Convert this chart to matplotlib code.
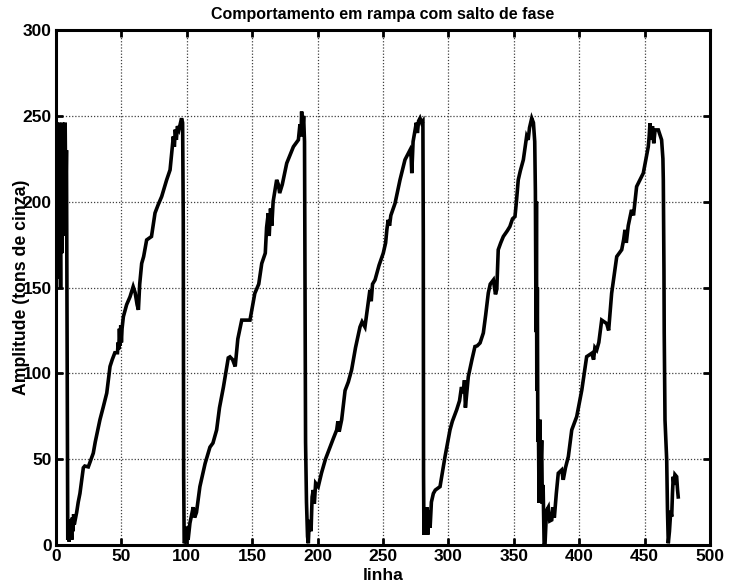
import matplotlib
matplotlib.use("Agg")
import matplotlib.pyplot as plt

# Data (linha, amplitude)
linha = [0, 0.5, 1, 1.5, 2, 2.5, 3, 3.5, 4, 4.5, 5, 5.5, 6, 6.5, 7, 7.5, 8, 8.5, 9, 9.5,
         10, 10.5, 11, 11.5, 12, 12.5, 13, 13.5, 14, 15.8, 17, 18.3, 20.9, 22, 24.7, 28.5, 30, 33.6, 36, 38.8,
         41.3, 43, 45, 47, 47.5, 48, 48.5, 49, 49.5, 50, 50.5, 51.5, 54, 56.6, 59, 60.5, 62, 63, 64, 65.5,
         67, 69.3, 73, 75.7, 78, 80.8, 84.6, 87.2, 89.7, 90.5, 91.2, 92, 92.8, 94, 96, 96.8, 97.3, 97.6, 98, 98.8,
         99.9, 101, 102.4, 104.9, 106, 107.4, 110, 114, 117.7, 120, 122.8, 125, 128, 131.7, 133, 135, 137, 139,
         142, 148.3, 152, 155, 157.3, 160, 161, 162.3, 163, 164, 165, 166, 168.7, 170, 171, 173, 176.4, 181.5,
         185.3, 186.5, 187.3, 187.8, 188.5, 189.3, 190, 190.4, 190.8, 191.5, 192.3, 192.9, 193.5, 194, 195, 195.8,
         196.7, 197.5, 198.5, 200.5, 203, 206, 209.5, 212, 214.6, 215.5, 216.5, 218.4, 221, 223.5, 226, 229,
         232.4, 234, 236.2, 240, 241, 242, 243.9, 247, 250.2, 252, 253, 254, 255, 256, 259.2, 263, 266.8, 270.6,
         271.5, 272, 273, 274.5, 275.5, 276.3, 277.2, 278.3, 279.5, 280.5, 280.8, 281, 281.3, 282, 282.7, 283.5,
         284.2, 285, 286, 287, 288.5, 290, 293.6, 297.4, 301.2, 303, 306.3, 308.5, 310, 311.4, 312.3, 313, 315.2,
         318, 320.3, 322, 324.2, 326.7, 328.5, 330.5, 332, 334.4, 336, 337, 338.1, 340, 342, 345, 347, 349,
         350.9, 352, 353.4, 355, 357.3, 359.8, 361, 362, 363.7, 365, 366, 366.5, 367, 367.3, 367.6, 368, 368.4,
         368.8, 369.3, 370, 370.5, 371.3, 371.8, 372.4, 373.2, 373.9, 375, 376.4, 377.5, 379, 380, 381, 382.5,
         384, 386.6, 387.8, 389.5, 391.7, 394.3, 398.1, 402, 405.7, 409.6, 411, 412, 413.4, 415, 417.2, 421,
         422.5, 424.8, 428.7, 432.5, 434, 435, 436, 437.5, 440, 441.5, 443.9, 446, 449, 452.8, 453.5, 454.1,
         455, 456, 457, 458, 460.5, 463, 464, 464.3, 464.8, 465, 465.6, 466.9, 467.5, 468.1, 469, 470, 470.7,
         471.3, 471.9, 472.5, 473.2, 474.5, 475.2, 475.7]

amplitude = [200, 246, 160, 240, 155, 246, 200, 150, 244, 170, 246, 180, 245, 215, 246, 200, 230, 120, 3, 12,
             2, 15, 5, 14, 3, 16, 8, 18, 12, 19, 25, 30, 45, 46, 45.5, 53.5, 60, 73, 80, 88.5,
             104, 108, 112, 112, 118, 114, 126, 116, 128, 118, 126, 133, 140, 144.6, 150.5, 147, 140, 137, 152, 164,
             168, 177.7, 179.7, 193.4, 198, 203, 212.7, 218.5, 238, 232, 242, 236, 244, 242, 248.6, 246, 190, 40, 1, 2,
             10.7, 3, 12.8, 22, 16, 19, 34, 47.5, 57, 59.4, 67, 80, 92, 109, 109.6, 108, 104, 120,
             131, 131, 146.6, 152, 164, 170, 185, 193.3, 180, 196, 186, 200, 212.7, 210, 205, 210, 222.4, 232,
             236, 245, 238, 252.5, 240, 250, 235, 150, 60, 25, 5, 1, 12, 14.6, 8, 28,
             32, 24, 36, 34, 42, 50, 57, 62, 67, 72, 66, 73, 90, 95, 102, 115,
             127, 130, 127, 148.6, 142, 152, 154.4, 163, 170, 176, 184, 189.4, 186, 192, 199, 212.7, 224.4, 230,
             226, 216.6, 235, 241.8, 246, 240, 247, 248.6, 246, 247, 180, 40, 6, 18, 8, 22,
             6, 20, 10, 25, 30, 32, 34, 51.4, 67, 72, 78.7, 84, 92, 88.5, 96, 80, 98,
             108, 115.6, 116, 117.7, 123.5, 134, 146.8, 152, 154.4, 146, 149, 172, 176, 179.7, 183, 185.5, 190,
             191.3, 200, 212.7, 218, 224.4, 238, 236, 243, 248.6, 246, 235, 206, 124, 200, 90, 150, 60,
             72.8, 24.5, 73, 40, 61, 24, 35, 0, 1, 20, 22, 14, 14.6, 22, 16, 30,
             41.8, 43.7, 38, 45, 51.5, 67, 74.8, 90.3, 109.7, 111.7, 108, 115, 113.6, 118, 131, 129,
             125, 146.6, 168, 172, 178, 183.6, 176, 186, 195.2, 192, 208.8, 212, 216.6, 232, 238, 245.7,
             236, 244, 234, 241.8, 241.8, 236, 225, 212.7, 160, 123.5, 72.8, 49.5, 20, 1, 8, 20, 16.5,
             30, 39.8, 35, 41, 39.8, 32, 28]

xticks = [0, 50, 100, 150, 200, 250, 300, 350, 400, 450, 500]
yticks = [0, 50, 100, 150, 200, 250, 300]

plt.rcParams['font.family'] = ['Liberation Sans', 'DejaVu Sans']

fig = plt.figure(figsize=(7.29, 5.88), dpi=100)
ax = fig.add_axes([56/729, 1 - 545/588, 654/729, 515/588])

ax.plot(linha, amplitude, color='black', linewidth=2.6, solid_joinstyle='miter')

ax.set_xlim(0, 500)
ax.set_ylim(0, 300)
ax.set_xticks(xticks)
ax.set_yticks(yticks)
ax.set_xticklabels([str(t) for t in xticks], fontsize=12.5, fontweight='bold')
ax.set_yticklabels([str(t) for t in yticks], fontsize=12.5, fontweight='bold')
ax.tick_params(direction='in', length=5, width=2, top=True, right=True, pad=3)

ax.grid(True, linestyle=(0, (1, 1.5)), color='0.25', linewidth=0.9)
for s in ax.spines.values():
    s.set_linewidth(2.2)

ax.set_title('Comportamento em rampa com salto de fase', fontsize=11.5, fontweight='bold', pad=8)
ax.set_xlabel('linha', fontsize=12.5, fontweight='bold')
ax.xaxis.set_label_coords(0.5, -0.044)
ax.set_ylabel('Amplitude (tons de cinza)', fontsize=12.7, fontweight='bold')
ax.yaxis.set_label_coords(-0.040, 0.5)

fig.savefig('out.png', dpi=100)
